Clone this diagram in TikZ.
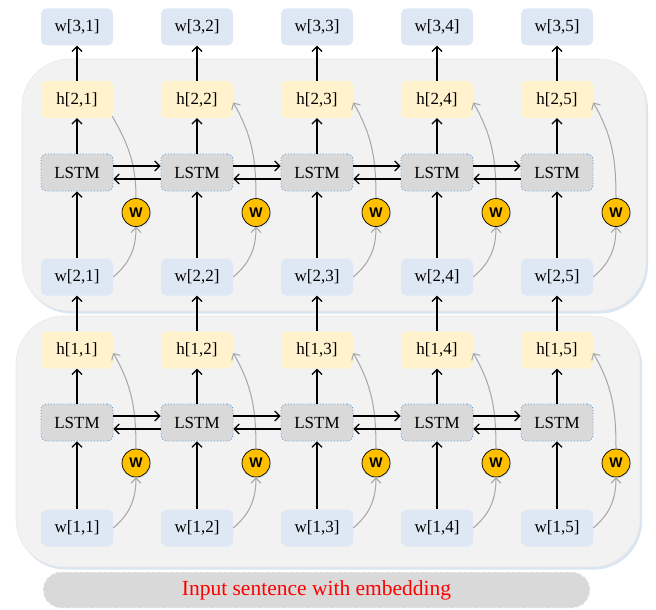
\documentclass[tikz,border=0pt]{standalone}
\usepackage{fontspec}
\setmainfont{Liberation Serif}
\newfontfamily\wfont{Liberation Sans}
\usetikzlibrary{arrows.meta}
\definecolor{wbox}{HTML}{DEE8F4}
\definecolor{hbox}{HTML}{FFF2CC}
\definecolor{lstmfill}{HTML}{D9D9D9}
\definecolor{lstmdraw}{HTML}{5B9BD5}
\definecolor{panel}{HTML}{F2F2F2}
\definecolor{panelline}{HTML}{DAE5F2}
\definecolor{panelrim}{HTML}{E8E8E8}
\definecolor{gold}{HTML}{FFC000}
\definecolor{curvegray}{HTML}{A6A6A6}
\definecolor{inputfill}{HTML}{D9D9D9}
\tikzset{
  box/.style={rounded corners=6pt, minimum width=72pt, minimum height=37pt, inner sep=0pt,
              font=\fontsize{17}{20}\selectfont},
  wnode/.style={box, fill=wbox},
  hnode/.style={box, fill=hbox},
  lstm/.style={box, fill=lstmfill, draw=lstmdraw, dotted, line width=0.9pt},
  wcirc/.style={circle, fill=gold, draw=black, line width=0.7pt, minimum size=28pt, inner sep=0pt,
                font=\wfont\bfseries\fontsize{14}{14}\selectfont},
  wshadow/.style={circle, fill=panelline, minimum size=28pt, inner sep=0pt},
  arr/.style={line width=1.2pt, -{Straight Barb[length=5pt,width=10pt]}},
  garr/.style={draw=curvegray, line width=1pt, -{Straight Barb[length=5pt,width=10pt]}},
  gline/.style={draw=curvegray, line width=1pt},
  panelshadow/.style={fill=panelline, rounded corners=48pt},
  panelbox/.style={fill=panel, draw=panelrim, line width=0.6pt, rounded corners=48pt},
  inputbox/.style={fill=inputfill, draw=white, dashed, line width=0.8pt, rounded corners=18pt}
}
\begin{document}
\begin{tikzpicture}[x=1pt,y=1pt]
\useasboundingbox (0,0) rectangle (656,-610);
% panels
\path[panelshadow] (23.5,-61.5) rectangle (648,-313.5);
\path[panelbox] (22,-59) rectangle (646,-311);
\path[panelshadow] (17.5,-318.5) rectangle (642,-569.5);
\path[panelbox] (16,-316) rectangle (640,-567);
% input box
\node[inputbox, minimum width=547pt, minimum height=36pt, inner sep=0pt,
      text=red, font=\fontsize{21.5}{24}\selectfont] (input) at (316.5,-590) {Input sentence with embedding};
% nodes
\foreach \i/\x in {1/77,2/197,3/317,4/437,5/557} {
  \node[wnode] (w3\i) at (\x,-27) {w[3,\i]};
  \node[hnode] (h2\i) at (\x,-99.5) {h[2,\i]};
  \node[lstm] (L2\i) at (\x,-172.5) {LSTM};
  \node[wshadow] at (\x+60,-214) {};
  \node[wcirc] (W2\i) at (\x+59,-212.5) {W};
  \node[wnode] (w2\i) at (\x,-277) {w[2,\i]};
  \node[hnode] (h1\i) at (\x,-350) {h[1,\i]};
  \node[lstm] (L1\i) at (\x,-422.5) {LSTM};
  \node[wshadow] at (\x+60,-464.5) {};
  \node[wcirc] (W1\i) at (\x+59,-463) {W};
  \node[wnode] (w1\i) at (\x,-528) {w[1,\i]};
  % vertical arrows
  \draw[arr] (h2\i.north) -- (w3\i.south);
  \draw[arr] (L2\i.north) -- (h2\i.south);
  \draw[arr] (w2\i.north) -- (L2\i.south);
  \draw[arr] (h1\i.north) -- (w2\i.south);
  \draw[arr] (L1\i.north) -- (h1\i.south);
  \draw[arr] (w1\i.north) -- (L1\i.south);
  % gray curves
  \draw[garr] (w2\i.east) to[out=40,in=-90] (W2\i.south);
  \draw[garr] (w1\i.east) to[out=40,in=-90] (W1\i.south);
  \draw[garr] (W1\i.north) to[out=90,in=-60] ([yshift=-3pt]h1\i.east);
}
\draw[gline] (W21.north) to[out=90,in=-60] ([xshift=-1pt,yshift=2pt]h21.south east);
\foreach \i in {2,3,4,5} {
  \draw[garr] (W2\i.north) to[out=90,in=-60] ([yshift=-3pt]h2\i.east);
}
% horizontal arrows
\foreach \i/\j in {1/2,2/3,3/4,4/5} {
  \draw[arr] ([yshift=6.5pt]L2\i.east) -- ([yshift=6.5pt]L2\j.west);
  \draw[arr] ([yshift=-6.5pt]L2\j.west) -- ([yshift=-6.5pt]L2\i.east);
  \draw[arr] ([yshift=6.5pt]L1\i.east) -- ([yshift=6.5pt]L1\j.west);
  \draw[arr] ([yshift=-6.5pt]L1\j.west) -- ([yshift=-6.5pt]L1\i.east);
}
\end{tikzpicture}
\end{document}
